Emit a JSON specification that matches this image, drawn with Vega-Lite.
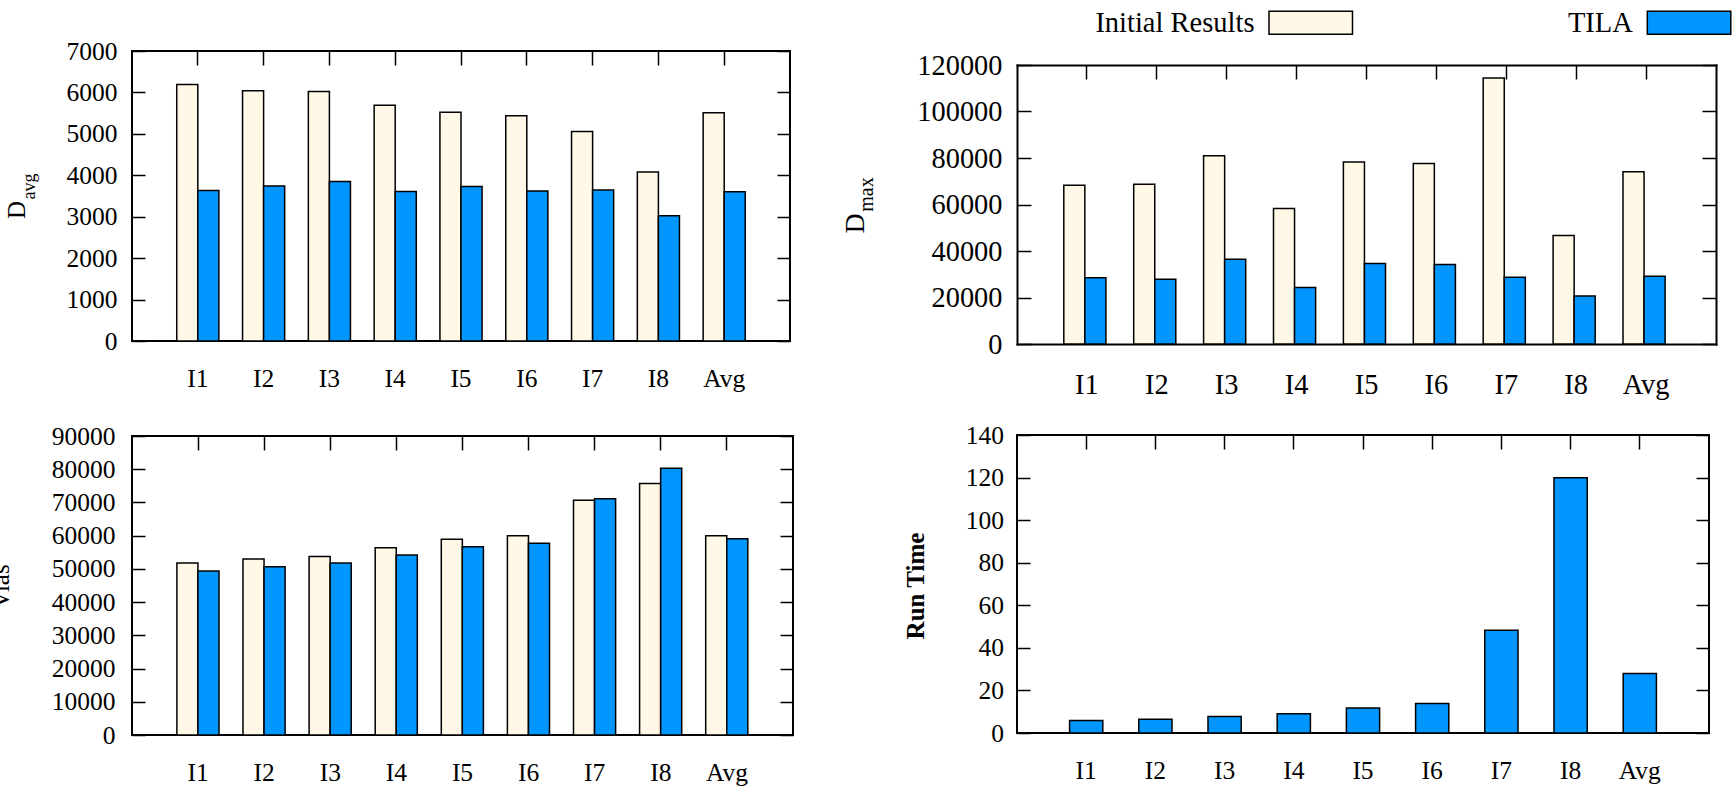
{
  "$schema": "https://vega.github.io/schema/vega-lite/v6.json",
  "background": "white",
  "padding": {"left": -13, "top": 8, "right": 0, "bottom": 0},
  "spacing": 46,
  "resolve": {"legend": {"color": "independent"}, "scale": {"color": "independent"}},
  "datasets": {
    "davg": [
      {"inst": "I1", "series": "Initial Results", "value": 6190}, {"inst": "I1", "series": "TILA", "value": 3630},
      {"inst": "I2", "series": "Initial Results", "value": 6040}, {"inst": "I2", "series": "TILA", "value": 3740},
      {"inst": "I3", "series": "Initial Results", "value": 6020}, {"inst": "I3", "series": "TILA", "value": 3850},
      {"inst": "I4", "series": "Initial Results", "value": 5690}, {"inst": "I4", "series": "TILA", "value": 3610},
      {"inst": "I5", "series": "Initial Results", "value": 5520}, {"inst": "I5", "series": "TILA", "value": 3730},
      {"inst": "I6", "series": "Initial Results", "value": 5435}, {"inst": "I6", "series": "TILA", "value": 3620},
      {"inst": "I7", "series": "Initial Results", "value": 5055}, {"inst": "I7", "series": "TILA", "value": 3645},
      {"inst": "I8", "series": "Initial Results", "value": 4080}, {"inst": "I8", "series": "TILA", "value": 3025},
      {"inst": "Avg", "series": "Initial Results", "value": 5510}, {"inst": "Avg", "series": "TILA", "value": 3605}
    ],
    "dmax": [
      {"inst": "I1", "series": "Initial Results", "value": 68240}, {"inst": "I1", "series": "TILA", "value": 28470},
      {"inst": "I2", "series": "Initial Results", "value": 68670}, {"inst": "I2", "series": "TILA", "value": 27900},
      {"inst": "I3", "series": "Initial Results", "value": 80970}, {"inst": "I3", "series": "TILA", "value": 36480},
      {"inst": "I4", "series": "Initial Results", "value": 58230}, {"inst": "I4", "series": "TILA", "value": 24320},
      {"inst": "I5", "series": "Initial Results", "value": 78250}, {"inst": "I5", "series": "TILA", "value": 34620},
      {"inst": "I6", "series": "Initial Results", "value": 77680}, {"inst": "I6", "series": "TILA", "value": 34190},
      {"inst": "I7", "series": "Initial Results", "value": 114450}, {"inst": "I7", "series": "TILA", "value": 28760},
      {"inst": "I8", "series": "Initial Results", "value": 46640}, {"inst": "I8", "series": "TILA", "value": 20600},
      {"inst": "Avg", "series": "Initial Results", "value": 74100}, {"inst": "Avg", "series": "TILA", "value": 29180}
    ],
    "vias": [
      {"inst": "I1", "series": "Initial Results", "value": 51750}, {"inst": "I1", "series": "TILA", "value": 49350},
      {"inst": "I2", "series": "Initial Results", "value": 52950}, {"inst": "I2", "series": "TILA", "value": 50650},
      {"inst": "I3", "series": "Initial Results", "value": 53750}, {"inst": "I3", "series": "TILA", "value": 51750},
      {"inst": "I4", "series": "Initial Results", "value": 56340}, {"inst": "I4", "series": "TILA", "value": 54150},
      {"inst": "I5", "series": "Initial Results", "value": 58940}, {"inst": "I5", "series": "TILA", "value": 56640},
      {"inst": "I6", "series": "Initial Results", "value": 59940}, {"inst": "I6", "series": "TILA", "value": 57740},
      {"inst": "I7", "series": "Initial Results", "value": 70630}, {"inst": "I7", "series": "TILA", "value": 71130},
      {"inst": "I8", "series": "Initial Results", "value": 75720}, {"inst": "I8", "series": "TILA", "value": 80320},
      {"inst": "Avg", "series": "Initial Results", "value": 59940}, {"inst": "Avg", "series": "TILA", "value": 59040}
    ],
    "runtime": [
      {"inst": "I1", "series": "TILA", "value": 5.9},
      {"inst": "I2", "series": "TILA", "value": 6.5},
      {"inst": "I3", "series": "TILA", "value": 7.8},
      {"inst": "I4", "series": "TILA", "value": 9.0},
      {"inst": "I5", "series": "TILA", "value": 11.8},
      {"inst": "I6", "series": "TILA", "value": 13.9},
      {"inst": "I7", "series": "TILA", "value": 48.3},
      {"inst": "I8", "series": "TILA", "value": 119.9},
      {"inst": "Avg", "series": "TILA", "value": 27.9}
    ]
  },
  "hconcat": [
    {
      "spacing": 30,
      "vconcat": [
        {
          "width": 658,
          "height": 290,
          "data": {"name": "davg"},
          "layer": [
            {
              "mark": {"type": "bar", "stroke": "black", "strokeWidth": 1.5},
              "encoding": {
                "x": {"field": "inst", "type": "nominal", "sort": ["I1", "I2", "I3", "I4", "I5", "I6", "I7", "I8", "Avg"],
                  "scale": {"paddingInner": 0, "paddingOuter": 0.5},
                  "axis": {"orient": "bottom", "labelAngle": 0, "labelFontSize": 25.5, "labelPadding": 25, "ticks": false, "title": null}},
                "xOffset": {"field": "series", "type": "nominal", "sort": ["Initial Results", "TILA"],
                  "scale": {"paddingInner": 0, "paddingOuter": 0.5625}},
                "y": {"field": "value", "type": "quantitative", "stack": null, "scale": {"domain": [0, 7000], "nice": false},
                  "axis": {"orient": "left", "values": [0, 1000, 2000, 3000, 4000, 5000, 6000, 7000], "format": "d",
                    "labelFontSize": 25.5, "labelPadding": 28, "tickSize": -13,
                    "title": "D", "titleFontSize": 25, "titleAngle": -90, "titleAlign": "center", "titleBaseline": "alphabetic",
                    "titleX": -108, "titleY": 158.5}},
                "color": {"field": "series", "type": "nominal",
                  "scale": {"domain": ["Initial Results", "TILA"], "range": ["#FFF8E6", "#0096FF"]}, "legend": null}
              }
            },
            {
              "mark": {"type": "bar", "opacity": 0},
              "encoding": {
                "x": {"field": "inst", "type": "nominal", "sort": ["I1", "I2", "I3", "I4", "I5", "I6", "I7", "I8", "Avg"],
                  "axis": {"orient": "top", "labels": false, "tickSize": -14, "title": null}},
                "y": {"field": "value", "type": "quantitative", "stack": null,
                  "axis": {"orient": "right", "values": [0, 1000, 2000, 3000, 4000, 5000, 6000, 7000], "labels": false, "tickSize": -13,
                    "title": "avg", "titleFontSize": 18, "titleAngle": -90, "titleAlign": "center", "titleBaseline": "alphabetic",
                    "titleX": -756, "titleY": 135}}
              }
            }
          ],
          "resolve": {"axis": {"x": "independent", "y": "independent"}}
        },
        {
          "width": 661,
          "height": 299,
          "data": {"name": "vias"},
          "layer": [
            {
              "mark": {"type": "bar", "stroke": "black", "strokeWidth": 1.5},
              "encoding": {
                "x": {"field": "inst", "type": "nominal", "sort": ["I1", "I2", "I3", "I4", "I5", "I6", "I7", "I8", "Avg"],
                  "scale": {"paddingInner": 0, "paddingOuter": 0.5},
                  "axis": {"orient": "bottom", "labelAngle": 0, "labelFontSize": 25.5, "labelPadding": 25, "ticks": false, "title": null}},
                "xOffset": {"field": "series", "type": "nominal", "sort": ["Initial Results", "TILA"],
                  "scale": {"paddingInner": 0, "paddingOuter": 0.5625}},
                "y": {"field": "value", "type": "quantitative", "stack": null, "scale": {"domain": [0, 90000], "nice": false},
                  "axis": {"orient": "left", "values": [0, 10000, 20000, 30000, 40000, 50000, 60000, 70000, 80000, 90000], "format": "d",
                    "labelFontSize": 25.5, "labelPadding": 30, "tickSize": -13,
                    "title": "Vias", "titleFontSize": 25, "titleAngle": -90, "titleAlign": "center", "titleBaseline": "alphabetic",
                    "titleX": -124, "titleY": 150}},
                "color": {"field": "series", "type": "nominal",
                  "scale": {"domain": ["Initial Results", "TILA"], "range": ["#FFF8E6", "#0096FF"]}, "legend": null}
              }
            },
            {
              "mark": {"type": "bar", "opacity": 0},
              "encoding": {
                "x": {"field": "inst", "type": "nominal", "sort": ["I1", "I2", "I3", "I4", "I5", "I6", "I7", "I8", "Avg"],
                  "axis": {"orient": "top", "labels": false, "tickSize": -14, "title": null}},
                "y": {"field": "value", "type": "quantitative", "stack": null,
                  "axis": {"orient": "right", "values": [0, 10000, 20000, 30000, 40000, 50000, 60000, 70000, 80000, 90000], "labels": false, "tickSize": -13, "title": null}}
              }
            }
          ],
          "resolve": {"axis": {"x": "independent", "y": "independent"}}
        }
      ]
    },
    {
      "spacing": 23,
      "vconcat": [
        {
          "width": 699,
          "height": 293,
          "view": {"stroke": null},
          "data": {"name": "dmax"},
          "layer": [
            {
              "mark": {"type": "bar", "stroke": "black", "strokeWidth": 1.5},
              "encoding": {
                "x": {"field": "inst", "type": "nominal", "sort": ["I1", "I2", "I3", "I4", "I5", "I6", "I7", "I8", "Avg"],
                  "scale": {"paddingInner": 0, "paddingOuter": 0.5},
                  "axis": {"orient": "bottom", "labelAngle": 0, "labelFontSize": 28.4, "labelPadding": 27.4, "ticks": false, "title": null,
                    "domain": true, "domainColor": "black", "domainWidth": 2, "domainCap": "square"}},
                "xOffset": {"field": "series", "type": "nominal", "sort": ["Initial Results", "TILA"],
                  "scale": {"paddingInner": 0, "paddingOuter": 0.5625}},
                "y": {"field": "value", "type": "quantitative", "stack": null,
                  "scale": {"domain": [0, 120000], "nice": false, "range": [293, 14]},
                  "axis": {"orient": "left", "values": [0, 20000, 40000, 60000, 80000, 100000, 120000], "format": "d",
                    "labelFontSize": 28.4, "labelPadding": 29, "tickSize": -14,
                    "domain": true, "domainColor": "black", "domainWidth": 2, "domainCap": "square",
                    "title": "D", "titleFontSize": 28, "titleAngle": -90, "titleAlign": "center", "titleBaseline": "alphabetic",
                    "titleX": -154, "titleY": 172}},
                "color": {"field": "series", "type": "nominal",
                  "scale": {"domain": ["Initial Results", "TILA"], "range": ["#FFF8E6", "#0096FF"]},
                  "legend": {"orient": "none", "legendX": 279.5, "legendY": -42.75, "direction": "horizontal", "title": null,
                    "labelFontSize": 28.5, "labelAlign": "right", "labelOffset": -70.5, "labelLimit": 400,
                    "symbolType": "M-3.63,-1H3.63V1H-3.63Z", "symbolSize": 529, "symbolStrokeColor": "black",
                    "symbolStrokeWidth": 1.5, "symbolOpacity": 1, "columnPadding": 212.3, "padding": 0}}
              }
            },
            {
              "mark": {"type": "bar", "opacity": 0},
              "encoding": {
                "x": {"field": "inst", "type": "nominal", "sort": ["I1", "I2", "I3", "I4", "I5", "I6", "I7", "I8", "Avg"],
                  "axis": {"orient": "top", "offset": -14, "labels": false, "tickSize": -14, "title": null,
                    "domain": true, "domainColor": "black", "domainWidth": 2, "domainCap": "square"}},
                "y": {"field": "value", "type": "quantitative", "stack": null,
                  "axis": {"orient": "right", "values": [0, 20000, 40000, 60000, 80000, 100000, 120000], "labels": false, "tickSize": -14,
                    "domain": true, "domainColor": "black", "domainWidth": 2, "domainCap": "square",
                    "title": "max", "titleFontSize": 20, "titleAngle": -90, "titleAlign": "center", "titleBaseline": "alphabetic",
                    "titleX": -844, "titleY": 143}}
              }
            }
          ],
          "resolve": {"axis": {"x": "independent", "y": "independent"}}
        },
        {
          "width": 692,
          "height": 298,
          "data": {"name": "runtime"},
          "layer": [
            {
              "mark": {"type": "bar", "stroke": "black", "strokeWidth": 1.5},
              "encoding": {
                "x": {"field": "inst", "type": "nominal", "sort": ["I1", "I2", "I3", "I4", "I5", "I6", "I7", "I8", "Avg"],
                  "scale": {"paddingInner": 0.52, "paddingOuter": 0.76},
                  "axis": {"orient": "bottom", "labelAngle": 0, "labelFontSize": 25.5, "labelPadding": 25.7, "ticks": false, "title": null}},
                "y": {"field": "value", "type": "quantitative", "stack": null, "scale": {"domain": [0, 140], "nice": false},
                  "axis": {"orient": "left", "values": [0, 20, 40, 60, 80, 100, 120, 140], "format": "d",
                    "labelFontSize": 25.5, "labelPadding": 26.4, "tickSize": -13,
                    "title": "Run Time", "titleFontSize": 25, "titleFontWeight": "bold", "titleAngle": -90, "titleAlign": "center", "titleBaseline": "alphabetic",
                    "titleX": -94, "titleY": 150.5}},
                "color": {"field": "series", "type": "nominal",
                  "scale": {"domain": ["Initial Results", "TILA"], "range": ["#FFF8E6", "#0096FF"]}, "legend": null}
              }
            },
            {
              "mark": {"type": "bar", "opacity": 0},
              "encoding": {
                "x": {"field": "inst", "type": "nominal", "sort": ["I1", "I2", "I3", "I4", "I5", "I6", "I7", "I8", "Avg"],
                  "axis": {"orient": "top", "labels": false, "tickSize": -14, "title": null}},
                "y": {"field": "value", "type": "quantitative", "stack": null,
                  "axis": {"orient": "right", "values": [0, 20, 40, 60, 80, 100, 120, 140], "labels": false, "tickSize": -13, "title": null}}
              }
            }
          ],
          "resolve": {"axis": {"x": "independent", "y": "independent"}}
        }
      ]
    }
  ],
  "config": {
    "view": {"stroke": "black", "strokeWidth": 2},
    "axis": {
      "labelFont": "Liberation Serif", "labelColor": "black",
      "titleFont": "Liberation Serif", "titleColor": "black", "titleFontWeight": "normal",
      "tickColor": "black", "tickWidth": 1.5, "grid": false, "domain": false,
      "labelOverlap": false, "labelFlush": false
    },
    "legend": {"labelFont": "Liberation Serif", "labelColor": "black"}
  }
}
